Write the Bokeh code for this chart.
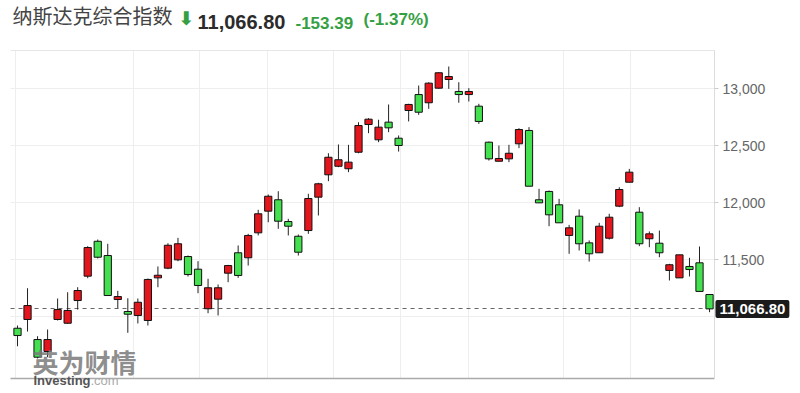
from bokeh.plotting import figure
from bokeh.models import (Label, FixedTicker, NumeralTickFormatter, Range1d,
                          ColumnDataSource, Grid)
from bokeh.embed import file_html
from bokeh.resources import INLINE

title_text = "纳斯达克综合指数"
last_close = 11066.80
change_text = "-153.39"
change_pct_text = "(-1.37%)"

dates = ["06-14", "06-15", "06-16", "06-17", "06-21", "06-22", "06-23", "06-24", "06-27", "06-28",
         "06-29", "06-30", "07-01", "07-05", "07-06", "07-07", "07-08", "07-11", "07-12", "07-13",
         "07-14", "07-15", "07-18", "07-19", "07-20", "07-21", "07-22", "07-25", "07-26", "07-27",
         "07-28", "07-29", "08-01", "08-02", "08-03", "08-04", "08-05", "08-08", "08-09", "08-10",
         "08-11", "08-12", "08-15", "08-16", "08-17", "08-18", "08-19", "08-22", "08-23", "08-24",
         "08-25", "08-26", "08-29", "08-30", "08-31", "09-01", "09-02", "09-06", "09-07", "09-08",
         "09-09", "09-12", "09-13", "09-14", "09-15", "09-16", "09-19", "09-20", "09-21", "09-22"]

opens = [10897, 10974, 10798, 10693, 10974, 10941, 11140, 11354, 11660, 11535,
         11149, 11044, 11009, 10965, 11339, 11424, 11497, 11526, 11415, 11068,
         11152, 11380, 11559, 11515, 11734, 11924, 12024, 11833, 11704, 11754,
         12047, 12243, 12318, 12296, 12441, 12684, 12550, 12705, 12564, 12807,
         12947, 12875, 13003, 13079, 12974, 12947, 12845, 12529, 12362, 12383,
         12515, 12632, 12024, 12097, 11980, 11711, 11880, 11646, 11559, 11687,
         11968, 12178, 11915, 11682, 11643, 11404, 11339, 11439, 11471, 11193]
highs = [10921, 11248, 10827, 10886, 11158, 11213, 11257, 11617, 11675, 11638,
         11225, 11160, 11158, 11333, 11439, 11643, 11690, 11535, 11485, 11331,
         11281, 11453, 11623, 11725, 11936, 12070, 12099, 11857, 11719, 12076,
         12173, 12432, 12509, 12506, 12704, 12740, 12726, 12860, 12588, 12866,
         13026, 13055, 13143, 13193, 13055, 13003, 12866, 12535, 12500, 12506,
         12652, 12661, 12120, 12105, 12032, 11804, 11939, 11667, 11822, 11901,
         12134, 12295, 11959, 11746, 11754, 11462, 11541, 11515, 11614, 11193]
lows = [10739, 10868, 10632, 10643, 10965, 10936, 11061, 11336, 11509, 11180,
        11073, 10857, 10939, 10921, 11257, 11415, 11485, 11351, 11204, 11029,
        11009, 11301, 11339, 11447, 11711, 11827, 11769, 11711, 11535, 11725,
        11886, 12187, 12310, 12266, 12432, 12608, 12529, 12617, 12447, 12711,
        12769, 12822, 12997, 12997, 12875, 12886, 12690, 12368, 12360, 12354,
        12477, 12143, 11997, 11792, 11822, 11550, 11579, 11482, 11559, 11675,
        11959, 12178, 11617, 11608, 11520, 11316, 11339, 11351, 11220, 11038]
closes = [10833, 11096, 10643, 10798, 11061, 11053, 11228, 11605, 11520, 11184,
          11175, 11020, 11125, 11325, 11362, 11625, 11638, 11368, 11272, 11252,
          11252, 11447, 11360, 11711, 11901, 12055, 11836, 11792, 11564, 12035,
          12164, 12397, 12375, 12354, 12675, 12731, 12661, 12655, 12500, 12860,
          12792, 13047, 13138, 13105, 12947, 12974, 12711, 12383, 12386, 12432,
          12640, 12143, 11997, 11892, 11822, 11778, 11638, 11550, 11792, 11871,
          12114, 12266, 11638, 11725, 11559, 11454, 11541, 11412, 11220, 11066.80]

y_ticks = [11500, 12000, 12500, 13000]
y_grid = [11000, 11500, 12000, 12500, 13000]
grid_x = [-0.2, 11.57, 18.14, 24.9, 31.5, 38.2, 44.96, 54.4, 61.1]

# plotting-area box (x in candle-index units, y in index points); the canvas frame is larger
PLOT_X0, PLOT_X1 = -0.7, 69.49
PLOT_Y0, PLOT_Y1 = 10456, 13333
VIEW_X = (-1.695, 78.07)
VIEW_Y = (10324.6, 13772)

UP = "#e3161d"
DOWN = "#45e04f"
GREEN_TXT = "#35a043"

idx = list(range(len(opens)))
src = ColumnDataSource(dict(
    x=idx, date=dates, open=opens, high=highs, low=lows, close=closes,
    top=[max(o, c) for o, c in zip(opens, closes)],
    bottom=[min(o, c) for o, c in zip(opens, closes)],
    color=[UP if c >= o else DOWN for o, c in zip(opens, closes)],
))

p = figure(width=800, height=393, output_backend="svg", toolbar_location=None, title=None,
           x_range=Range1d(*VIEW_X), y_range=Range1d(*VIEW_Y),
           y_axis_location="right",
           min_border_left=0, min_border_right=0, min_border_top=0, min_border_bottom=0)
p.background_fill_color = "white"
p.border_fill_color = "white"
p.outline_line_color = None

p.xaxis.visible = False

# grid limited to the plotting box
p.xgrid.ticker = FixedTicker(ticks=grid_x)
p.xgrid.cross_bounds = (PLOT_Y0, PLOT_Y1)
p.xgrid.grid_line_color = "#eeeeee"
p.ygrid.ticker = FixedTicker(ticks=y_grid)
p.ygrid.cross_bounds = (PLOT_X0, PLOT_X1)
p.ygrid.grid_line_color = "#eeeeee"

top_border = Grid(dimension=1, ticker=FixedTicker(ticks=[PLOT_Y1]), cross_bounds=(PLOT_X0, PLOT_X1),
                  grid_line_color="#e6e6e6")
bottom_border = Grid(dimension=1, ticker=FixedTicker(ticks=[PLOT_Y0]), cross_bounds=(PLOT_X0, PLOT_X1),
                     grid_line_color="#aaaaaa", grid_line_width=1.5)
last_line = Grid(dimension=1, ticker=FixedTicker(ticks=[last_close]), cross_bounds=(PLOT_X0, PLOT_X1 - 0.15),
                 grid_line_color="#666666", grid_line_dash="4 4", grid_line_width=1.2)
p.add_layout(top_border)
p.add_layout(bottom_border)
p.add_layout(last_line)

# price axis on the right edge of the plotting box
p.yaxis.fixed_location = PLOT_X1
p.yaxis.bounds = (PLOT_Y0, PLOT_Y1)
p.yaxis.ticker = FixedTicker(ticks=y_ticks)
p.yaxis.formatter = NumeralTickFormatter(format="0,0")
p.yaxis.axis_line_color = "#dcdcdc"
p.yaxis.major_tick_line_color = "#cccccc"
p.yaxis.major_tick_in = 0
p.yaxis.major_tick_out = 4
p.yaxis.minor_tick_line_color = None
p.yaxis.major_label_standoff = 4
p.yaxis.major_label_text_font = "Liberation Sans"
p.yaxis.major_label_text_font_size = "14px"
p.yaxis.major_label_text_color = "#666666"

# candles
p.segment(x0="x", y0="low", x1="x", y1="high", source=src, line_color="#222222", line_width=1)
p.vbar(x="x", width=0.72, top="top", bottom="bottom", source=src,
       fill_color="color", line_color="#111111", line_width=1)

# last-price tag
p.add_layout(Label(x=PLOT_X1, y=last_close, x_offset=1,
                   text=f"{last_close:,.2f}", text_color="white", text_font="Liberation Sans",
                   text_font_size="15px", text_font_style="bold", text_baseline="middle",
                   background_fill_color="#1b1b1b", padding=4, border_radius=2))

# title row (screen units, y measured from the canvas bottom)
p.add_layout(Label(x=12, y=364, x_units="screen", y_units="screen", text=title_text,
                   text_font="Noto Sans CJK SC", text_font_size="20px", text_color="#444444"))
p.add_layout(Label(x=178, y=365, x_units="screen", y_units="screen", text="⬇",
                   text_font="DejaVu Sans", text_font_size="19px", text_font_style="bold",
                   text_color=GREEN_TXT))
p.add_layout(Label(x=197, y=365, x_units="screen", y_units="screen", text=f"{last_close:,.2f}",
                   text_font="Liberation Sans", text_font_size="20px", text_font_style="bold",
                   text_color="#2b2b2b"))
p.add_layout(Label(x=295, y=365, x_units="screen", y_units="screen", text=change_text,
                   text_font="Liberation Sans", text_font_size="17px", text_font_style="bold",
                   text_color=GREEN_TXT))
p.add_layout(Label(x=363, y=365, x_units="screen", y_units="screen", text=change_pct_text,
                   text_font="Liberation Sans", text_font_size="17px", text_font_style="bold",
                   text_color=GREEN_TXT))

# watermark
p.add_layout(Label(x=32, y=14, x_units="screen", y_units="screen", text="英为财情",
                   text_font="Noto Sans CJK SC", text_font_size="26px", text_font_style="bold",
                   text_color="#7a7a7a", text_alpha=0.85))
p.add_layout(Label(x=33, y=6, x_units="screen", y_units="screen", text="Investing",
                   text_font="Liberation Sans", text_font_size="13px", text_font_style="bold",
                   text_color="#555555"))
p.add_layout(Label(x=90, y=6, x_units="screen", y_units="screen", text=".com",
                   text_font="Liberation Sans", text_font_size="13px",
                   text_color="#aaaaaa"))

open("out.html", "w").write(file_html(p, INLINE))
